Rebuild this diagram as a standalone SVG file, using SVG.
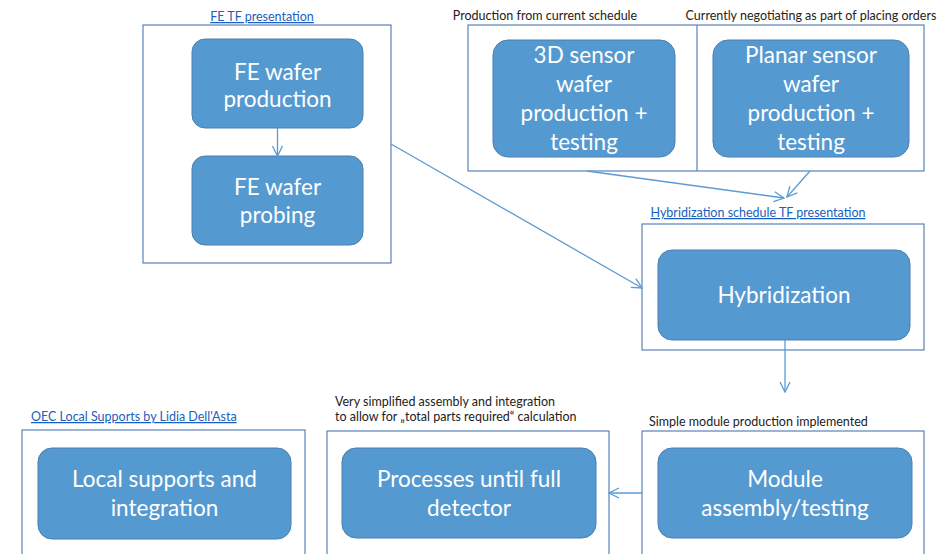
<svg xmlns="http://www.w3.org/2000/svg" width="951" height="554" viewBox="0 0 951 554">
<defs>
<style>
.cont{fill:#fff;stroke:#5b82b8;stroke-width:1.2}
.box{fill:#5599d1;stroke:#4a7fb0;stroke-width:1}
.bt{font-family:Lato,"Open Sans",sans-serif;font-size:22.5px;fill:#fff;text-anchor:middle}
.lab{font-family:Lato,"Open Sans",sans-serif;font-size:12.5px;fill:#222}
.link{font-family:Lato,"Open Sans",sans-serif;font-size:12.5px;fill:#1a5fc0;text-decoration:underline}
.con{stroke:#5b9bd5;stroke-width:1.3;fill:none;marker-end:url(#ah)}
</style>
<marker id="ah" viewBox="0 0 12 12" refX="11" refY="6" markerWidth="12" markerHeight="12" markerUnits="userSpaceOnUse" orient="auto">
<path d="M1,1 L11,6 L1,11" fill="none" stroke="#5b9bd5" stroke-width="1.3"/>
</marker>
</defs>
<rect width="951" height="554" fill="#fff"/>

<g id="fe-group">
<text class="link" x="262" y="21" text-anchor="middle">FE TF presentation</text>
<rect class="cont" x="143" y="25" width="248" height="238"/>
</g>
<g id="fe-production">
<rect class="box" x="192" y="39" width="171" height="89" rx="13"/>
<text class="bt" x="277.5" y="80">FE wafer</text>
<text class="bt" x="277.5" y="107">production</text>
</g>
<g id="fe-probing">
<rect class="box" x="192" y="156" width="171" height="89" rx="13"/>
<text class="bt" x="277.5" y="195">FE wafer</text>
<text class="bt" x="277.5" y="223">probing</text>
</g>

<g id="sensor-group">
<text class="lab" x="545" y="20" text-anchor="middle">Production from current schedule</text>
<text class="lab" x="811" y="20" text-anchor="middle">Currently negotiating as part of placing orders</text>
<rect class="cont" x="468" y="25" width="456" height="146"/>
<line x1="697" y1="25" x2="697" y2="171" stroke="#5b82b8" stroke-width="1.2"/>
</g>
<g id="sensor-3d">
<rect class="box" x="493" y="40" width="182" height="117" rx="15"/>
<text class="bt" x="584" y="63">3D sensor</text>
<text class="bt" x="584" y="92">wafer</text>
<text class="bt" x="584" y="121">production +</text>
<text class="bt" x="584" y="150">testing</text>
</g>
<g id="sensor-planar">
<rect class="box" x="713" y="40" width="196" height="117" rx="15"/>
<text class="bt" x="811" y="63">Planar sensor</text>
<text class="bt" x="811" y="92">wafer</text>
<text class="bt" x="811" y="121">production +</text>
<text class="bt" x="811" y="150">testing</text>
</g>

<g id="hyb-group">
<text class="link" x="758" y="217" text-anchor="middle">Hybridization schedule TF presentation</text>
<rect class="cont" x="642" y="224" width="282" height="126"/>
</g>
<g id="hybridization">
<rect class="box" x="658" y="250" width="252" height="90" rx="14"/>
<text class="bt" x="784" y="303">Hybridization</text>
</g>

<g id="local-group">
<text class="link" x="31" y="421">OEC Local Supports by Lidia Dell'Asta</text>
<rect class="cont" x="22" y="430" width="283" height="140"/>
</g>
<g id="local-supports">
<rect class="box" x="38" y="448" width="253" height="91" rx="14"/>
<text class="bt" x="164.5" y="487">Local supports and</text>
<text class="bt" x="164.5" y="516">integration</text>
</g>

<g id="processes-group">
<text class="lab" x="335" y="406">Very simplified assembly and integration</text>
<text class="lab" x="335" y="421">to allow for „total parts required“ calculation</text>
<rect class="cont" x="327" y="431" width="282" height="140"/>
</g>
<g id="processes">
<rect class="box" x="342" y="448" width="254" height="90" rx="14"/>
<text class="bt" x="469" y="487">Processes until full</text>
<text class="bt" x="469" y="516">detector</text>
</g>

<g id="module-group">
<text class="lab" x="649" y="426">Simple module production implemented</text>
<rect class="cont" x="642" y="431" width="282" height="140"/>
</g>
<g id="module">
<rect class="box" x="658" y="448" width="254" height="90" rx="14"/>
<text class="bt" x="785" y="487">Module</text>
<text class="bt" x="785" y="516">assembly/testing</text>
</g>

<g id="connectors">
<line class="con" x1="277.5" y1="128" x2="277.5" y2="156"/>
<line class="con" x1="391" y1="144" x2="642" y2="288"/>
<line class="con" x1="587" y1="171" x2="784" y2="198"/>
<line class="con" x1="810" y1="171" x2="787" y2="197"/>
<line class="con" x1="785" y1="340" x2="785" y2="392"/>
<line class="con" x1="642" y1="493" x2="609" y2="493"/>
</g>
</svg>
